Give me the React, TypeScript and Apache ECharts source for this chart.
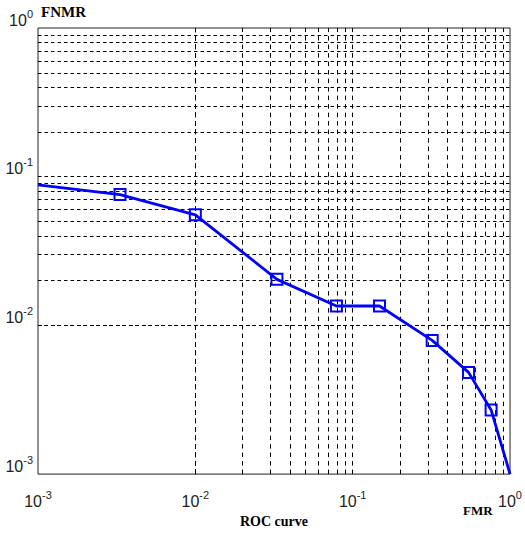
import React, { useEffect, useRef } from "react";
import * as echarts from "echarts";

// FMR (x) and FNMR (y) of the ROC curve
const fmrValues = [0.001, 0.00332, 0.01, 0.033, 0.0788, 0.148, 0.32, 0.545, 0.758, 1];
const fnmrValues = [0.088, 0.0758, 0.0554, 0.0204, 0.0135, 0.0135, 0.00793, 0.00483, 0.0027, 0.001];
const markerShown = [false, true, true, true, true, true, true, true, true, false];

// tick labels (powers of ten)
const xTickExponents = [-3, -2, -1, 0];
const yTickExponents = [-3, -2, -1, 0];

// grid lines: mantissas inside each decade
const gridMantissas = [1, 2, 3, 4, 5, 6, 7, 8, 9];
const gridDecades = [-3, -2, -1];

const SANS = "'Liberation Sans', Arial, sans-serif";
const SERIF = "'Liberation Serif', 'Times New Roman', serif";

function powLabel(v: number, exps: number[]) {
  const e = Math.round(Math.log10(v));
  if (!exps.includes(e)) return "";
  return `{b|10}{s|${e}}`;
}

const rich = {
  b: { fontSize: 16, fontFamily: SANS, color: "#222", verticalAlign: "bottom", lineHeight: 20 },
  s: { fontSize: 11, fontFamily: SANS, color: "#222", verticalAlign: "top", lineHeight: 20 },
};

export default function App() {
  const ref = useRef<HTMLDivElement>(null);
  useEffect(() => {
    if (!ref.current) return;
    const chart = echarts.init(ref.current, null, { renderer: "svg" });
    const gridValues: number[] = [];
    gridDecades.forEach((d) =>
      gridMantissas.forEach((m) => {
        if (!(d === -3 && m === 1)) gridValues.push(m * Math.pow(10, d));
      })
    );
    const dashH = [3.5, 3];
    const dashV = [4.5, 4];
    const markData: any[] = [];
    gridValues.forEach((v) => {
      markData.push({ xAxis: v, lineStyle: { type: dashV } });
      markData.push({ yAxis: v, lineStyle: { type: dashH } });
    });
    const lineData = fmrValues.map((x, i) => ({
      value: [x, fnmrValues[i]],
      symbol: markerShown[i] ? "rect" : "none",
    }));
    chart.setOption({
      animation: false,
      backgroundColor: "#fff",
      grid: {
        left: 38,
        right: 11,
        top: 28,
        bottom: 49,
        show: true,
        borderColor: "#222",
        borderWidth: 1,
        backgroundColor: "transparent",
      },
      xAxis: {
        type: "log",
        logBase: 10,
        min: 0.001,
        max: 1,
        name: "ROC curve",
        nameLocation: "middle",
        nameGap: 31,
        nameTextStyle: { fontFamily: SERIF, fontWeight: "bold", fontSize: 14, color: "#000" },
        axisLine: { show: false },
        axisTick: { show: false },
        splitLine: { show: false },
        axisLabel: {
          margin: 15,
          showMinLabel: true,
          showMaxLabel: true,
          formatter: (v: number) => powLabel(v, xTickExponents),
          rich,
        },
      },
      yAxis: {
        type: "log",
        logBase: 10,
        min: 0.001,
        max: 1,
        axisLine: { show: false },
        axisTick: { show: false },
        splitLine: { show: false },
        axisLabel: {
          margin: 5,
          verticalAlign: "bottom",
          showMinLabel: true,
          showMaxLabel: true,
          formatter: (v: number) => powLabel(v, yTickExponents),
          rich,
        },
      },
      graphic: [
        {
          type: "text",
          left: 41,
          top: 4,
          style: { text: "FNMR", font: `bold 15px ${SERIF}`, fill: "#000" },
        },
        {
          type: "text",
          left: 463,
          top: 504,
          style: { text: "FMR", font: `bold 13px ${SERIF}`, fill: "#000" },
        },
      ],
      series: [
        {
          type: "line",
          data: [],
          silent: true,
          markLine: {
            silent: true,
            symbol: ["none", "none"],
            label: { show: false },
            lineStyle: { color: "#000", width: 1 },
            data: markData,
          },
        },
        {
          type: "line",
          data: lineData,
          smooth: false,
          symbolSize: 11,
          lineStyle: { color: "#0000ff", width: 2.8 },
          itemStyle: { color: "rgba(0,0,0,0)", borderColor: "#0000ff", borderWidth: 2 },
          z: 5,
        },
      ],
    });
    return () => chart.dispose();
  }, []);
  return (
    <div
      ref={ref}
      style={{ position: "fixed", left: 0, top: 0, width: 525, height: 533, background: "#fff" }}
    />
  );
}
